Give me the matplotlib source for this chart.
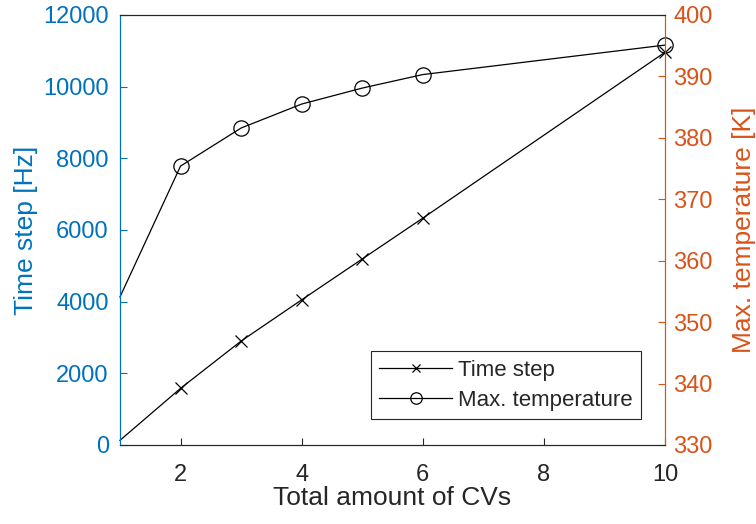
import matplotlib.pyplot as plt

plt.rcParams['font.family'] = ['Liberation Sans', 'DejaVu Sans']

# data
cvs = [1, 2, 3, 4, 5, 6, 10]
time_step = [130, 1580, 2900, 4050, 5190, 6330, 10960]
max_temp = [354.1, 375.4, 381.6, 385.5, 388.1, 390.3, 395.1]

blue = '#0072BD'
orange = '#D95319'

fig = plt.figure(figsize=(7.56, 5.24), dpi=100)
ax = fig.add_axes([0.1587, 0.1508, 0.7209, 0.8206])
ax2 = ax.twinx()

l1, = ax.plot(cvs, time_step, color='black', lw=0.9, marker='x', ms=8,
              mew=0.9, markevery=range(1, len(cvs)), label='Time step')
l2, = ax2.plot(cvs, max_temp, color='black', lw=0.9, marker='o', ms=11,
               mfc='none', mew=0.9, markevery=range(1, len(cvs)),
               label='Max. temperature')
for l in (l1, l2):
    l.set_clip_on(False)

ax.set_xlim(1, 10)
ax.set_ylim(0, 12000)
ax2.set_ylim(330, 400)
ax.set_xticks([2, 4, 6, 8, 10])
ax.set_yticks(range(0, 12001, 2000))
ax2.set_yticks(range(330, 401, 10))

ax.set_xlabel('Total amount of CVs', fontsize=19, color='#262626', labelpad=0)
ax.set_ylabel('Time step [Hz]', fontsize=19, color=blue, labelpad=4)
ax2.set_ylabel('Max. temperature [K]', fontsize=19, color=orange, labelpad=14)

ax.tick_params(axis='x', direction='in', labelsize=17, colors='#262626', length=5, pad=14)
ax.tick_params(axis='y', direction='in', labelsize=17, colors=blue, length=5, pad=8)
ax2.tick_params(axis='y', direction='in', labelsize=17, colors=orange, length=5, pad=6)

for a in (ax, ax2):
    a.spines['left'].set_color(blue)
    a.spines['right'].set_color(orange)
    a.spines['bottom'].set_color('#262626')
    a.spines['top'].set_color('#262626')
    for s in a.spines.values():
        s.set_linewidth(0.8)

leg = ax2.legend(handles=[l1, l2], loc='lower right',
                 bbox_to_anchor=(0.956, 0.06), fontsize=16, frameon=True,
                 fancybox=False, edgecolor='#262626', framealpha=1,
                 handlelength=3.3, handletextpad=0.25, borderpad=0.38,
                 labelspacing=0.4, markerscale=0.75, borderaxespad=0)
leg.get_frame().set_linewidth(0.8)
for t in leg.get_texts():
    t.set_color('#262626')

fig.savefig('out.png', dpi=100)
